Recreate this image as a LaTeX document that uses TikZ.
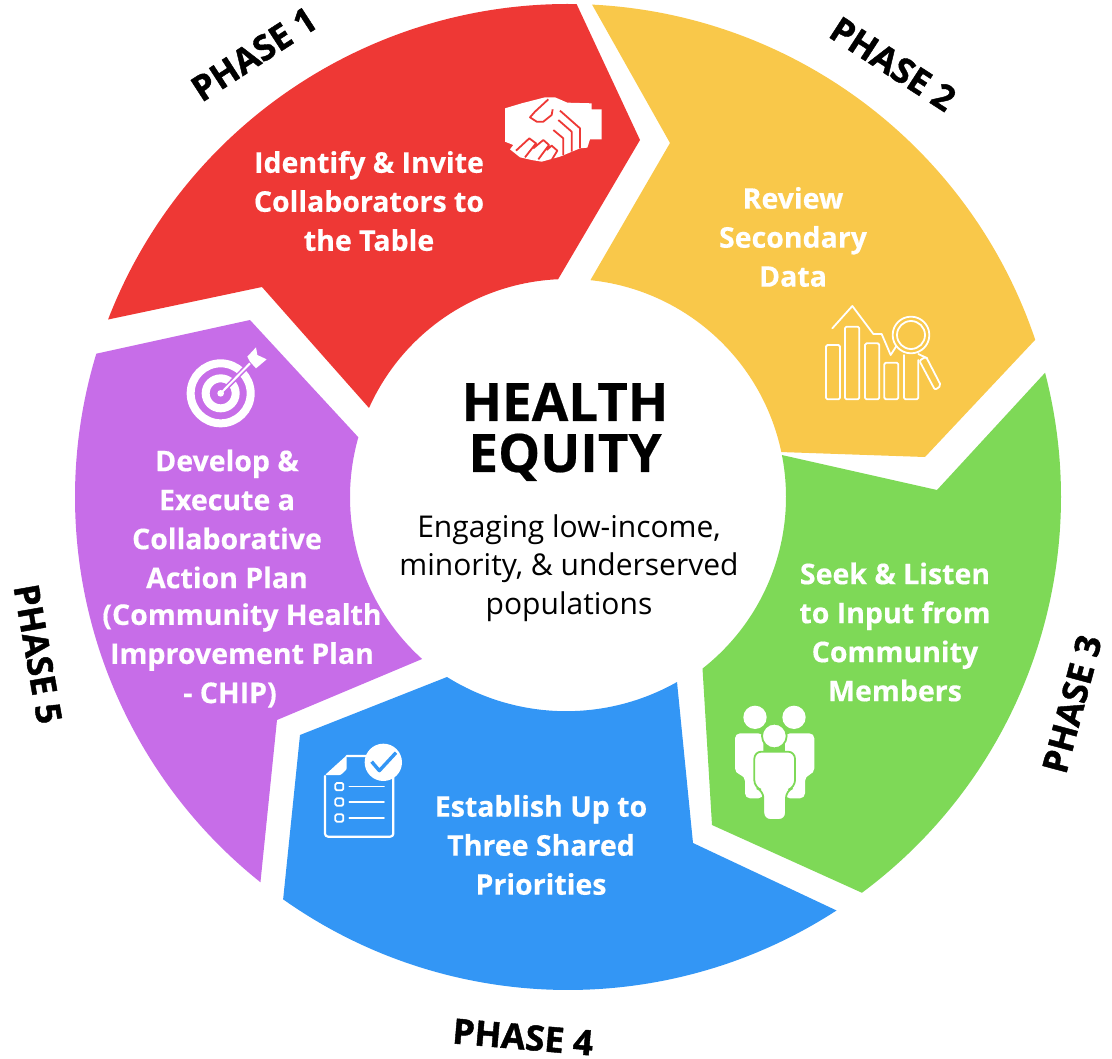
\documentclass[tikz,border=0pt]{standalone}
\usepackage{fontspec}
\setmainfont{Open Sans}
\newfontfamily\heavyfont[BoldFeatures={FakeBold=1.2}]{Open Sans}
\newfontfamily\semiheavyfont[BoldFeatures={FakeBold=0.4}]{Open Sans}
\usepackage{tikz}
\usetikzlibrary{calc}
\definecolor{redphase}{HTML}{EE3835}
\definecolor{yellowphase}{HTML}{F9C84A}
\definecolor{greenphase}{HTML}{7ED957}
\definecolor{bluephase}{HTML}{3396F5}
\definecolor{purplephase}{HTML}{C76DE8}
\tikzset{
	phaselabel/.style={font=\heavyfont\fontsize{35}{35}\selectfont\bfseries, text=black},
	phasetext/.style={font=\semiheavyfont\fontsize{28.5}{39}\selectfont\bfseries, text=white, align=center, inner sep=0pt},
	icon/.style={draw=white, line width=1.8pt, line join=round, line cap=round},
}
\begin{document}
\begin{tikzpicture}[x=1pt, y=-1pt]
\useasboundingbox (0,0) rectangle (1112,1059);
\coordinate (hub) at (568,497);
\fill[redphase] ($(hub)+(158.9:493pt)$) arc[start angle=158.9, end angle=89, radius=493pt] -- (640,140)
	-- ($(hub)+(92.6:218pt)$) arc[start angle=92.6, end angle=155.9, radius=218pt] -- (262,287) -- cycle;
\fill[yellowphase] ($(hub)+(87.2:493pt)$) arc[start angle=87.2, end angle=18.6, radius=493pt] -- (925,457)
	-- ($(hub)+(11.9:218pt)$) arc[start angle=11.9, end angle=84.1, radius=218pt] -- (670,143) -- cycle;
\fill[greenphase] ($(hub)+(14.6:493pt)$) arc[start angle=14.6, end angle=-53.4, radius=493pt] -- (712,825)
	-- ($(hub)+(-51.9:218pt)$) arc[start angle=-51.9, end angle=11.1, radius=218pt] -- (937,490) -- cycle;
\fill[bluephase] ($(hub)+(-57:493pt)$) arc[start angle=-57, end angle=-125.3, radius=493pt] -- (300,735)
	-- (447,677) arc[start angle=-122, end angle=-60.5, radius=225pt] -- (693,843) -- cycle;
\fill[purplephase] ($(hub)+(163.1:493pt)$) arc[start angle=163.1, end angle=231.4, radius=493pt] -- (277,720)
	-- ($(hub)+(228:218pt)$) arc[start angle=228, end angle=164.1, radius=218pt] -- (250,320) -- cycle;

\node[font=\semiheavyfont\fontsize{53}{51}\selectfont\bfseries, align=center, inner sep=0pt] (title) at (565,432) {HEALTH\\EQUITY};
\node[font=\fontsize{30}{38.5}\selectfont, align=center, inner sep=0pt] (subtitle) at (569,568) {Engaging low-income,\\minority, \& underserved\\populations};

\node[phaselabel, rotate=33] (phaseone) at (254,54) {PHASE 1};
\node[phaselabel, rotate=-33] (phasetwo) at (893,64) {PHASE 2};
\node[phaselabel, rotate=75] (phasethree) at (1072,704) {PHASE 3};
\node[phaselabel, rotate=-5] (phasefour) at (523,1037) {PHASE 4};
\node[phaselabel, rotate=-80] (phasefive) at (38,654) {PHASE 5};

\node[phasetext] (invite) at (369,201) {Identify \& Invite\\Collaborators to\\the Table};
\node[phasetext] (review) at (793,237) {Review\\Secondary\\Data};
\node[phasetext] (listen) at (895,632) {Seek \& Listen\\to Input from\\Community\\Members};
\node[phasetext] (priorities) at (541,845) {Establish Up to\\Three Shared\\Priorities};
\node[phasetext] (develop) at (227,519) {Develop \&\\Execute a\\Collaborative\\Action Plan};
\node[phasetext] (chip) at (242,637) {(Community Health\\Improvement Plan};
\node[phasetext] (chipend) at (230,695) {- CHIP)};

% handshake
\begin{scope}[shift={(480,80)}, scale=1/3]
\fill[white] (75,85) -- (125,70) -- (195,52) -- (225,52) -- (262,68) -- (335,70) -- (335,88) -- (365,88) -- (365,178) -- (330,178) -- (322,203) -- (300,205) -- (240,230) -- (185,245) -- (155,240) -- (120,232) -- (90,208) -- (100,195) -- (75,185) -- cycle;
\draw[redphase, line width=1.8pt, line join=round]
	(205,58) -- (165,95) -- (150,112) -- (170,125) -- (190,125) -- (215,105) -- (218,88)
	(240,92) -- (300,145) -- (300,205)
	(235,120) -- (275,155) -- (275,215)
	(220,150) -- (250,175) -- (250,225)
	(108,212) -- (148,175) -- (168,190) -- (135,232)
	(160,205) -- (190,180) -- (207,195) -- (175,238)
	(200,210) -- (215,197) -- (232,212) -- (215,240);
\end{scope}

% chart
\begin{scope}[shift={(800,290)}, scale=1/3]
\draw[icon, rounded corners=1.5pt] (78,165) rectangle (120,328);
\draw[icon, rounded corners=1.5pt] (135,110) rectangle (178,328);
\draw[icon, rounded corners=1.5pt] (195,160) rectangle (238,328);
\draw[icon, rounded corners=1.5pt] (253,218) rectangle (295,328);
\draw[icon, rounded corners=1.5pt] (312,195) -- (312,328) -- (355,328) -- (355,210);
\draw[icon] (97,115) -- (157,48) -- (220,132) -- (245,132) -- (272,195) -- (288,170);
\draw[icon] (333,135) circle[radius=55];
\draw[icon] (333,135) circle[radius=42];
\draw[icon] (355,192) -- (382,205);
\draw[icon, rounded corners=2pt] (358,212) -- (378,200) -- (423,287) -- (405,300) -- cycle;
\end{scope}

% people
\begin{scope}[shift={(720,690)}, scale=1/3]
\fill[white] (105,82) circle[radius=35];
\fill[white] (222,82) circle[radius=35];
\fill[white, rounded corners=5pt] (45,250) -- (45,130) -- (130,130) -- (130,325) -- (75,325) -- (75,258) -- cycle;
\fill[white, rounded corners=5pt] (283,250) -- (283,130) -- (195,130) -- (195,325) -- (255,325) -- (255,258) -- cycle;
\draw[greenphase, fill=white, line width=1.8pt, rounded corners=7pt] (103,292) -- (103,185) -- (225,185) -- (225,292) -- (198,302) -- (198,390) -- (130,390) -- (130,302) -- cycle;
\draw[greenphase, fill=white, line width=1.8pt] (163,138) circle[radius=37];
\end{scope}

% checklist
\begin{scope}[shift={(310,730)}, scale=1/3]
\draw[icon, line width=2.2pt, rounded corners=3pt] (110,78) -- (190,78) (250,130) -- (250,320) -- (45,320) -- (45,138);
\fill[white, rounded corners=1pt] (45,135) -- (110,76) -- (110,118) -- (92,135) -- cycle;
\fill[white] (220,97) circle[radius=56];
\draw[bluephase, line width=3.4pt, line join=round] (185,95) -- (208,122) -- (258,68);
\foreach \rowy in {170,216,264}{
	\draw[icon, line width=1.8pt, rounded corners=1.5pt] (76,\rowy-11) rectangle (100,\rowy+11);
	\draw[icon, line width=1.6pt] (118,\rowy) -- (222,\rowy);
}
\end{scope}

% target
\begin{scope}[shift={(170,340)}, scale=1/3]
\draw[white, line width=8pt] (152,160) circle[radius=90];
\draw[white, line width=8pt] (152,160) circle[radius=45];
\fill[white] (152,160) circle[radius=10];
\draw[purplephase, line width=5pt] (160,152) -- (240,70);
\draw[white, line width=2pt] (152,160) -- (240,70);
\fill[white] (232,50) -- (258,22) -- (262,45) -- (290,58) -- (258,85) -- (240,65) -- cycle;
\end{scope}
\end{tikzpicture}
\end{document}
